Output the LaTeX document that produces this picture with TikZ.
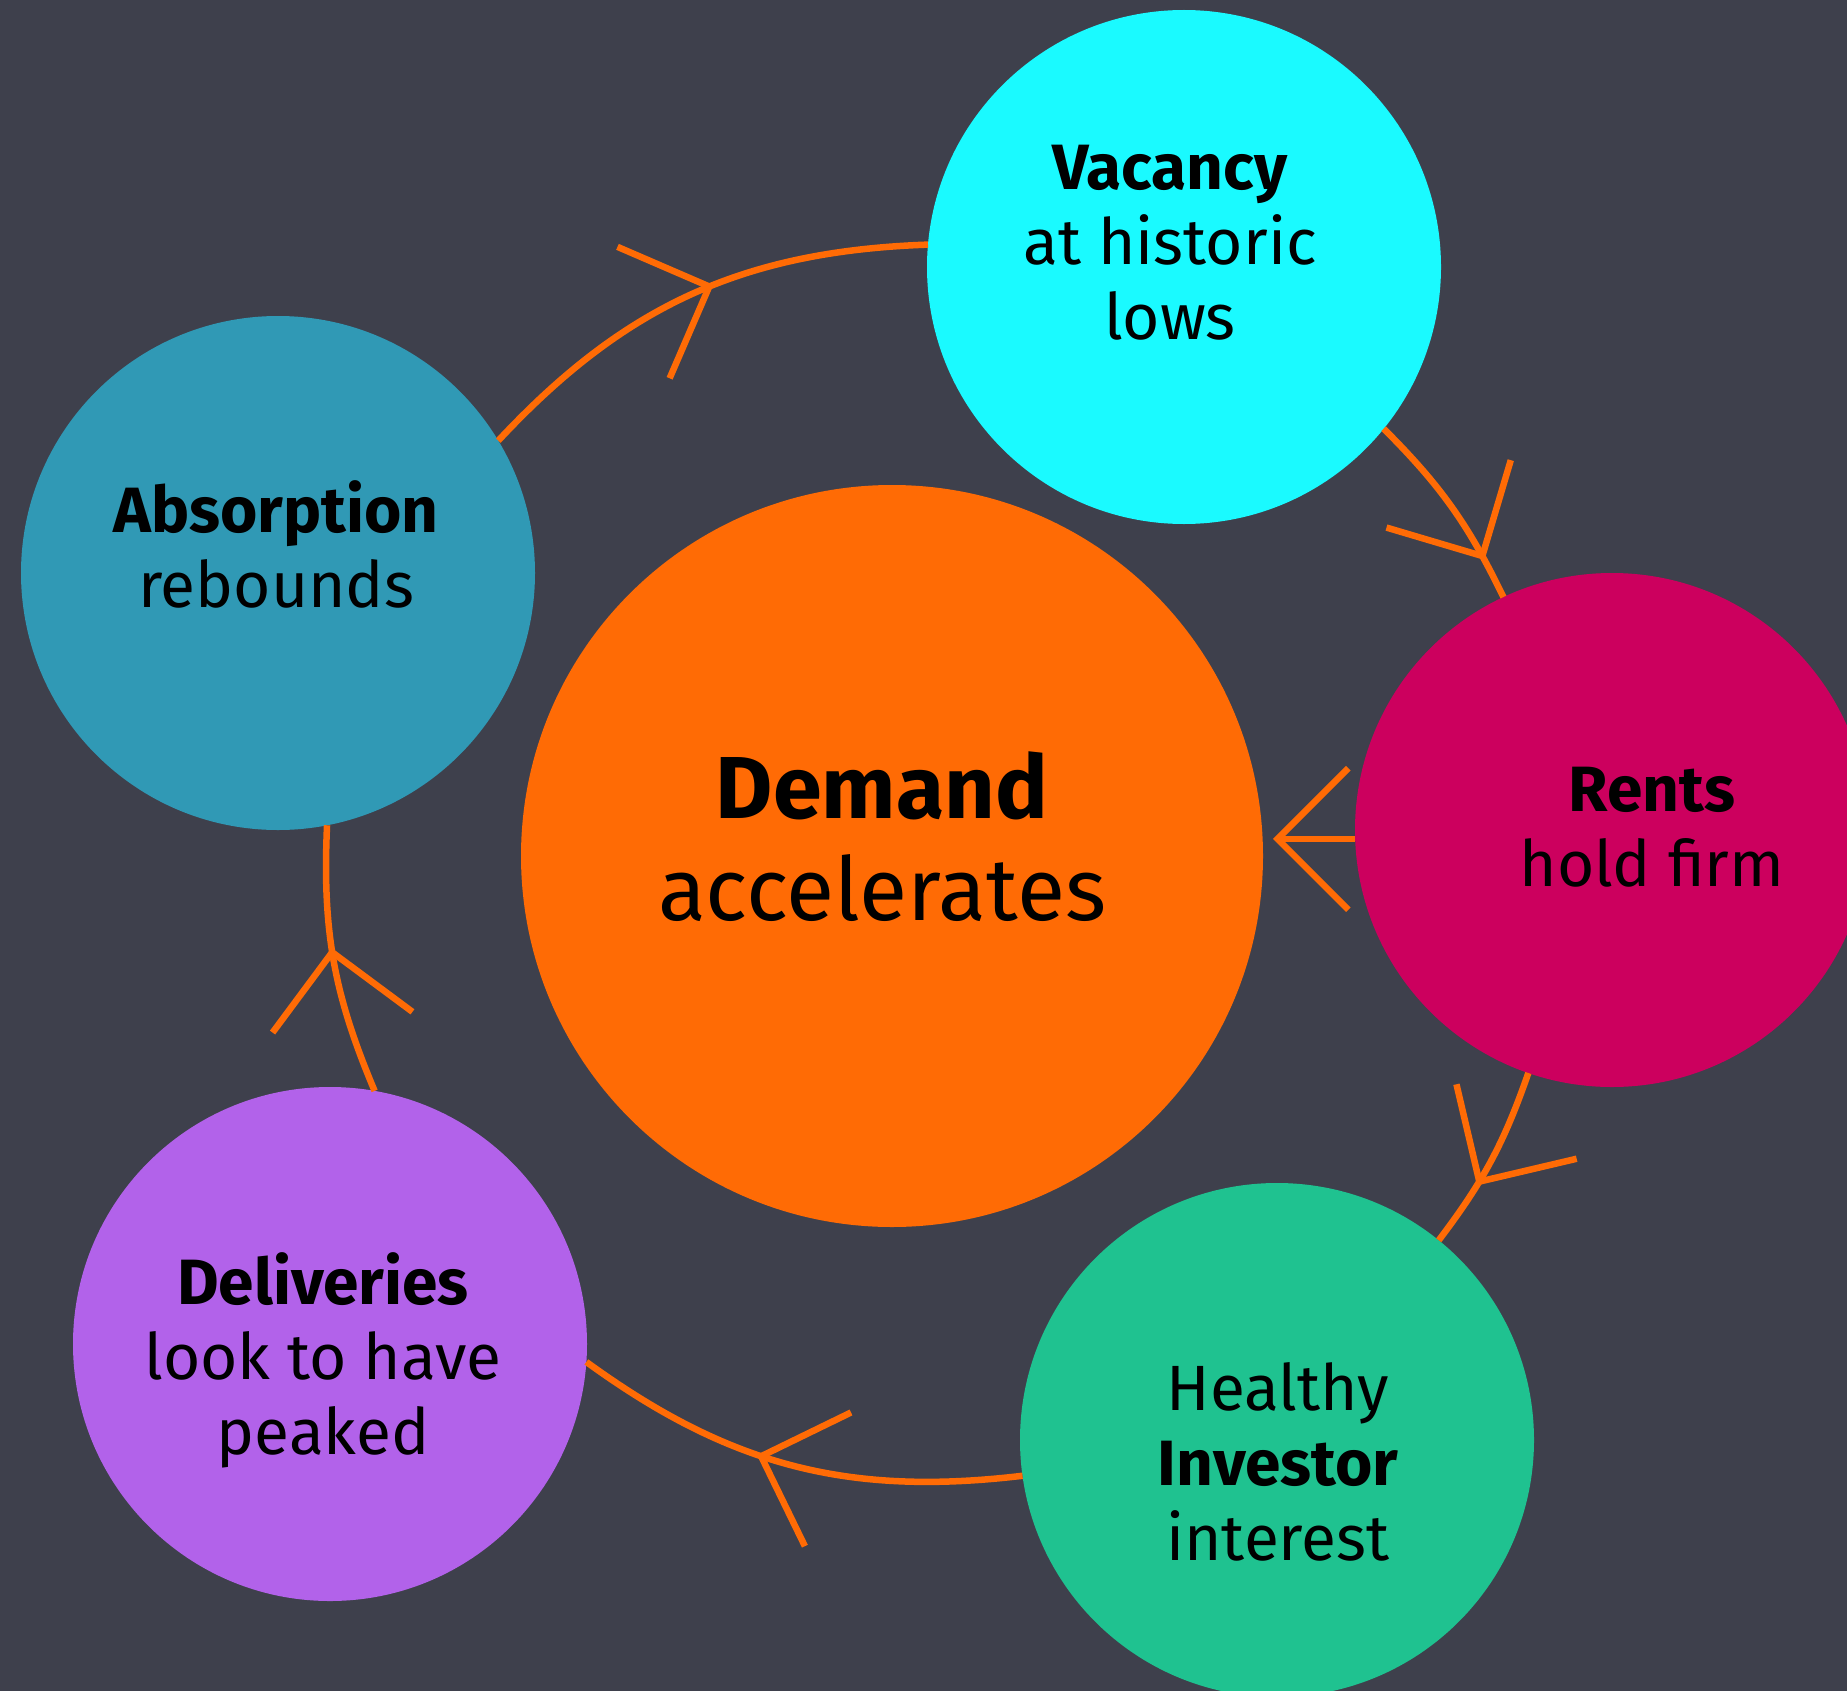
\documentclass[tikz,border=0pt]{standalone}
\usepackage{fontspec}
\setmainfont{Fira Sans}
\usetikzlibrary{arrows.meta,decorations.markings}

\definecolor{bgcol}{HTML}{3E404C}
\definecolor{orng}{HTML}{FF6B05}
\definecolor{vaccol}{HTML}{1AFAFF}
\definecolor{abscol}{HTML}{3099B5}
\definecolor{rentcol}{HTML}{CC005E}
\definecolor{invcol}{HTML}{1FC290}
\definecolor{delcol}{HTML}{B262EA}

\tikzset{
  bubble/.style={circle, inner sep=0pt, outer sep=0pt, minimum size=514pt},
  lbl/.style={align=center, text=black, font=\fontsize{64}{75}\selectfont},
  link/.style={draw=orng, line width=6.5pt},
  cyc/.tip={Straight Barb[angle=90:100pt, line width=6.5pt]},
  midarrow/.style={postaction={decorate},
    decoration={markings, mark=at position #1 with {\arrow{cyc}}}}
}

\begin{document}
\begin{tikzpicture}[x=1pt, y=1pt]
  \clip (0,0) rectangle (1847,-1691);
  \fill[bgcol] (0,0) rectangle (1847,-1691);

  % bubbles
  \node[bubble, fill=orng, minimum size=742pt] (demand) at (892,-856) {};
  \node[bubble, fill=vaccol] (vacancy) at (1184,-267) {};
  \node[bubble, fill=abscol] (absorb) at (278,-573) {};
  \node[bubble, fill=rentcol] (rents) at (1612,-830) {};
  \node[bubble, fill=invcol] (invest) at (1277,-1440) {};
  \node[bubble, fill=delcol] (deliv) at (330,-1344) {};

  % texts
  \node[lbl, font=\fontsize{88}{102}\selectfont] (demand-t) at (882,-837) {\textbf{Demand}\\accelerates};
  \node[lbl] (vacancy-t) at (1170,-243) {\textbf{Vacancy}\\at historic\\lows};
  \node[lbl] (absorb-t) at (276,-544) {\textbf{Absorption}\\rebounds};
  \node[lbl] (rents-t) at (1652,-827) {\textbf{Rents}\\hold firm};
  \node[lbl] (invest-t) at (1278,-1462) {Healthy\\\textbf{Investor}\\interest};
  \node[lbl] (deliv-t) at (323,-1360) {\textbf{Deliveries}\\look to have\\peaked};

  % cycle
  \draw[link, midarrow=0.55] (absorb.31) to[bend left=22.5] (vacancy.175.5);
  \draw[link, midarrow=0.8] (vacancy.-39) to[bend left=9.6] (rents.115);
  \draw[link, midarrow=0.65] (rents.-109) to[bend left=9] (invest.51.5);
  \draw[link, midarrow=0.58] (invest.188.7) to[bend left=21.4] (deliv.-4.9);
  \draw[link, midarrow=0.55] (deliv.80.5) to[bend left=12.7] (absorb.-79.2);
  \draw[link, -cyc, shorten >=10pt] (rents.182) -- (demand.east |- rents.182);
\end{tikzpicture}
\end{document}
